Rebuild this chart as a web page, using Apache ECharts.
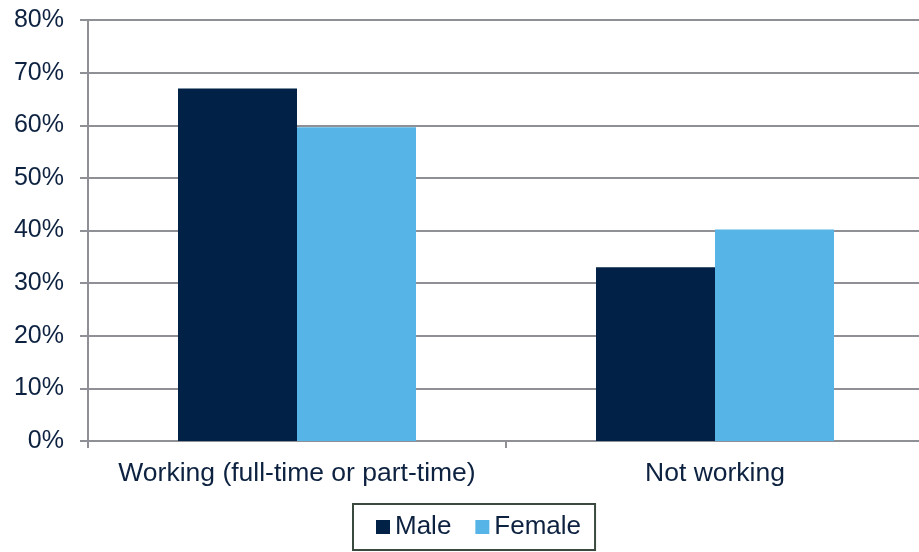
<!DOCTYPE html>
<html>
<head>
<meta charset="utf-8">
<script src="https://cdn.jsdelivr.net/npm/echarts@6/dist/echarts.min.js"></script>
<style>
  html, body { margin: 0; padding: 0; background: #fff; }
  #chart { width: 919px; height: 552px; }
</style>
</head>
<body>
<div id="chart"></div>
<script>
const categories = ['Working (full-time or part-time)', 'Not working'];
const maleValues = [67, 33];
const femaleValues = [59.6, 40.2];
const yTicks = [0, 10, 20, 30, 40, 50, 60, 70, 80];

const textColor = '#0d2240';
const lineColor = '#8e9095';

const chart = echarts.init(document.getElementById('chart'), null, { renderer: 'canvas' });

const option = {
  backgroundColor: '#fff',
  animation: false,
  textStyle: { fontFamily: 'Liberation Sans, Arial, sans-serif' },
  grid: { left: 88, width: 836, top: 20, bottom: 111, containLabel: false, outerBoundsMode: 'none' },
  legend: {
    data: ['Male', 'Female'],
    left: 353,
    top: 504,
    padding: [10, 14, 10, 23],
    itemWidth: 14,
    itemHeight: 14,
    itemGap: 24,
    icon: 'rect',
    borderColor: '#3a4a3e',
    borderWidth: 2,
    textStyle: { fontSize: 26, color: textColor, fontFamily: 'Liberation Sans, Arial, sans-serif' }
  },
  xAxis: {
    type: 'category',
    data: categories,
    axisLine: { lineStyle: { color: lineColor, width: 2 } },
    axisTick: { show: true, length: 7, lineStyle: { color: lineColor, width: 2 } },
    axisLabel: { fontSize: 26.5, color: textColor, margin: 19, interval: 0 }
  },
  yAxis: {
    type: 'value',
    min: yTicks[0],
    max: yTicks[yTicks.length - 1],
    interval: 10,
    axisLine: { show: true, lineStyle: { color: lineColor, width: 2 } },
    axisTick: { show: true, length: 8, lineStyle: { color: lineColor, width: 2 } },
    axisLabel: { fontSize: 25, color: textColor, margin: 24, padding: [4, 0, 0, 0], formatter: '{value}%' },
    splitLine: { lineStyle: { color: lineColor, width: 2 } }
  },
  series: [
    {
      name: 'Male',
      type: 'bar',
      data: maleValues,
      barWidth: 119,
      barGap: '0%',
      itemStyle: { color: '#012146' }
    },
    {
      name: 'Female',
      type: 'bar',
      data: femaleValues,
      barWidth: 119,
      itemStyle: { color: '#56b5e6' }
    }
  ]
};

chart.setOption(option);
</script>
</body>
</html>
